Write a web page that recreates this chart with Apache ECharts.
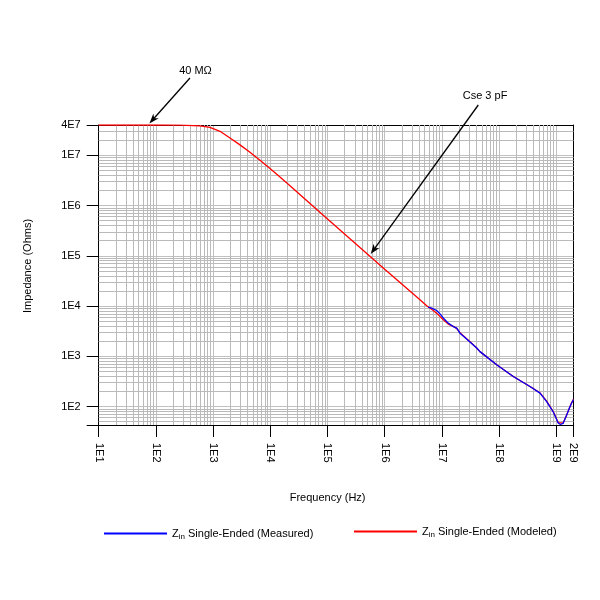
<!DOCTYPE html>
<html><head><meta charset="utf-8">
<script src="https://cdn.jsdelivr.net/npm/echarts@6/dist/echarts.min.js"></script>
<style>html,body{margin:0;padding:0;background:#fff}#c{width:600px;height:600px}</style>
</head><body><div id="c"></div>
<script>
// ---- data ----
const modeledFreq = [10, 100, 264, 590, 883, 1321, 1974, 2951, 4415, 6607, 9880, 14780, 22090, 1e5, 1e6, 4.14e6, 5.42e6, 7.08e6, 8.65e6, 1.06e7, 1.29e7, 1.58e7, 1.82e7, 2.07e7, 2.90e7, 4.06e7, 4.63e7, 9.08e7, 1.77e8, 3.47e8, 5.19e8, 6.79e8, 8.87e8, 1.08e9, 1.16e9, 1.32e9, 1.52e9, 1.74e9, 1.86e9, 2.0e9];
const modeledZ    = [4.0e7, 4.0e7, 3.98e7, 3.85e7, 3.6e7, 3.0e7, 2.21e7, 1.61e7, 1.15e7, 7.96e6, 5.47e6, 3.71e6, 2.48e6, 5.42e5, 5.4e4, 1.33e4, 1.01e4, 8.15e3, 6.68e3, 5.32e3, 4.37e3, 3.95e3, 3.55e3, 2.95e3, 2.08e3, 1.46e3, 1.24e3, 678, 396, 251, 188, 128, 79, 48, 44, 47, 68, 100, 120, 140];
const measuredFreq = [5.78e6, 6.64e6, 8.11e6, 9.27e6, 1.13e7, 1.29e7, 1.58e7, 1.82e7, 2.07e7, 2.90e7, 4.06e7, 4.63e7, 9.08e7, 1.77e8, 3.47e8, 5.19e8, 6.79e8, 8.87e8, 1.08e9, 1.18e9, 1.32e9, 1.52e9, 1.74e9, 1.86e9, 2.0e9];
const measuredZ    = [9.5e3, 9.08e3, 8.15e3, 7.0e3, 5.32e3, 4.57e3, 3.91e3, 3.64e3, 2.89e3, 2.06e3, 1.46e3, 1.24e3, 678, 396, 251, 185, 126, 78, 47, 44, 46.4, 67.8, 100, 118, 138];
const xRange = [10, 2e9];
const yRange = [43, 4e7];
const minorMultipliers = [2, 3, 4, 5, 6, 7, 8, 9];
const xDecades = [1, 2, 3, 4, 5, 6, 7, 8];
const yDecades = [1, 2, 3, 4, 5, 6, 7];
const seriesNames = ['Zin Single-Ended (Measured)', 'Zin Single-Ended (Modeled)'];
const annotationTexts = ['40 M\u03A9', 'Cse 3 pF'];
const annotationTextAt = [[492, 4.75e8], [5.68e7, 1.51e8]];
const annotationTail = [[394, 3.44e8], [4.33e7, 1.0e8]];
const annotationTip = [[77, 4.3e7], [5.69e5, 1.09e5]];

const GRID = '#c0c0c0';
const GRID_MINOR = '#bababa';
const FONT = 'Liberation Sans, Arial, sans-serif';

function fmtE(v) {
  const e = Math.floor(Math.log10(v) + 1e-6);
  const m = Math.round(v / Math.pow(10, e));
  return m + 'E' + e;
}
const xMinor = [], yMinor = [];
xDecades.forEach(d => minorMultipliers.forEach(m => { const v = m * Math.pow(10, d); if (v < xRange[1]) xMinor.push({ xAxis: v }); }));
yDecades.forEach(d => minorMultipliers.forEach(m => { const v = m * Math.pow(10, d); if (v > yRange[0] && v < yRange[1]) yMinor.push({ yAxis: v }); }));

const chart = echarts.init(document.getElementById('c'), null, { renderer: 'canvas' });
const legendCommon = {
  orient: 'horizontal', itemWidth: 63, itemHeight: 2, icon: 'rect', itemGap: 0,
  textStyle: { color: '#000', fontSize: 11, fontFamily: FONT,
    rich: { z: { fontSize: 11, fontFamily: FONT, color: '#000' },
            sub: { fontSize: 8, fontFamily: FONT, color: '#000', padding: [6, 0, 0, 0] },
            t: { fontSize: 11, fontFamily: FONT, color: '#000' } } },
  formatter: n => '{z|Z}{sub|in}{t|' + n.slice(3) + '}',
  selectedMode: false
};
const frameAxis = {
  axisLine: { show: true, onZero: false, lineStyle: { color: '#000', width: 1 } },
  axisTick: { show: false }, axisLabel: { show: false }, splitLine: { show: false },
  minorTick: { show: false }, minorSplitLine: { show: false }
};
chart.setOption({
  animation: false,
  backgroundColor: '#fff',
  grid: { left: 98.7, right: 26.5, top: 125, bottom: 175, show: false, containLabel: false },
  legend: [
    Object.assign({}, legendCommon, { data: [seriesNames[0]], left: 99, top: 523 }),
    Object.assign({}, legendCommon, { data: [seriesNames[1]], left: 349, top: 521 })
  ],
  xAxis: [{
    type: 'log', logBase: 10, min: xRange[0], max: xRange[1], position: 'bottom',
    axisLine: { show: true, onZero: false, lineStyle: { color: '#000', width: 1 } },
    axisTick: { show: true, inside: false, length: 12, lineStyle: { color: '#000', width: 1 } },
    axisLabel: { rotate: -90, margin: 18, color: '#000', fontSize: 11, fontFamily: FONT, formatter: fmtE, showMinLabel: true, showMaxLabel: true },
    splitLine: { show: true, lineStyle: { color: GRID, width: 1 } },
    minorTick: { show: false }, minorSplitLine: { show: false },
    name: 'Frequency (Hz)', nameLocation: 'middle', nameGap: 67,
    nameTextStyle: { color: '#000', fontSize: 11, fontFamily: FONT, padding: [0, 17, 0, 0] }
  }, Object.assign({ type: 'log', logBase: 10, min: xRange[0], max: xRange[1], position: 'top' }, frameAxis)],
  yAxis: [{
    type: 'log', logBase: 10, min: yRange[0], max: yRange[1], position: 'left',
    axisLine: { show: true, onZero: false, lineStyle: { color: '#000', width: 1 } },
    axisTick: { show: true, inside: false, length: 12, lineStyle: { color: '#000', width: 1 } },
    axisLabel: { margin: 18, color: '#000', fontSize: 11, fontFamily: FONT, showMinLabel: true, showMaxLabel: true,
      formatter: v => (v < 60 ? '' : fmtE(v)) },
    splitLine: { show: true, lineStyle: { color: GRID, width: 1 } },
    minorTick: { show: false }, minorSplitLine: { show: false },
    name: 'Impedance (Ohms)', nameLocation: 'middle', nameGap: 65,
    nameTextStyle: { color: '#000', fontSize: 11, fontFamily: FONT, padding: [0, 0, 0, 18] }
  }, Object.assign({ type: 'log', logBase: 10, min: yRange[0], max: yRange[1], position: 'right' }, frameAxis)],
  series: [
    { name: 'minor-grid', type: 'line', data: [], silent: true, z: 1, showSymbol: false,
      markLine: { silent: true, z: 1, symbol: ['none', 'none'], label: { show: false },
        lineStyle: { color: GRID_MINOR, width: 1, type: 'solid' }, emphasis: { disabled: true },
        data: xMinor.concat(yMinor) } },
    { name: seriesNames[1], type: 'line', z: 3, showSymbol: false, smooth: false,
      data: modeledFreq.map((f, i) => [f, modeledZ[i]]),
      lineStyle: { color: '#ff0000', width: 1.3 }, itemStyle: { color: '#ff0000' } },
    { name: seriesNames[0], type: 'line', z: 4, showSymbol: false, smooth: false,
      data: measuredFreq.map((f, i) => [f, measuredZ[i]]),
      lineStyle: { color: '#0000ff', width: 1.3 }, itemStyle: { color: '#0000ff' } }
  ]
});

// annotations positioned through the chart's own scales
const gfx = [];
annotationTexts.forEach((t, i) => {
  const tp = chart.convertToPixel({ gridIndex: 0 }, annotationTextAt[i]);
  const a = chart.convertToPixel({ gridIndex: 0 }, annotationTail[i]);
  const b = chart.convertToPixel({ gridIndex: 0 }, annotationTip[i]);
  const dx = b[0] - a[0], dy = b[1] - a[1], len = Math.hypot(dx, dy);
  const ux = dx / len, uy = dy / len, nx = -uy, ny = ux;
  const L = 10, W = 3.6;
  const back = [b[0] - ux * L, b[1] - uy * L];
  gfx.push({ type: 'line', silent: true, z: 10, shape: { x1: a[0], y1: a[1], x2: b[0] - ux * 6, y2: b[1] - uy * 6 }, style: { stroke: '#000', lineWidth: 1.3 } });
  gfx.push({ type: 'polygon', silent: true, z: 10, shape: { points: [b, [back[0] + nx * W, back[1] + ny * W], [b[0] - ux * L * 0.7, b[1] - uy * L * 0.7], [back[0] - nx * W, back[1] - ny * W]] }, style: { fill: '#000' } });
  gfx.push({ type: 'text', silent: true, z: 10, style: { text: t, x: tp[0], y: tp[1], align: 'center', verticalAlign: 'middle', font: '11px ' + FONT, fill: '#000' } });
});
chart.setOption({ graphic: gfx });
</script></body></html>
